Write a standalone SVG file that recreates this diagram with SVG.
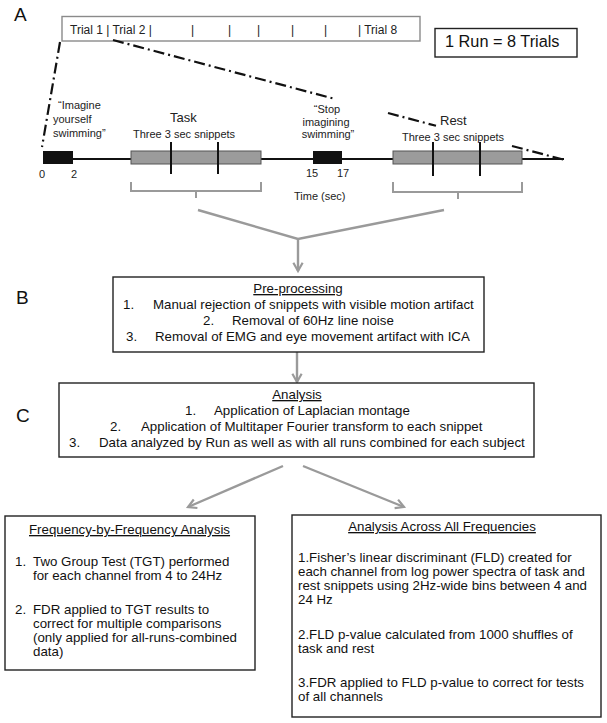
<svg xmlns="http://www.w3.org/2000/svg" width="607" height="723" viewBox="0 0 607 723">
<defs>
<style>
text{font-family:"Liberation Sans",Arial,sans-serif;fill:#111}
.lab{font-size:19px}
.s11{font-size:11px;fill:#222}
.s12{font-size:12px;fill:#222}
.s13{font-size:13px;fill:#222}
.m{font-size:13.3px}
.u{text-decoration:underline}
.box{fill:#fff;stroke:#222;stroke-width:1.4}
.gbox{fill:#fff;stroke:#8a8a8a;stroke-width:1.4}
.dd{fill:none;stroke:#111;stroke-width:2.2;stroke-dasharray:11 4 2 4}
.conn{fill:none;stroke:#9a9a9a;stroke-width:2.4}
.snip{fill:#9b9b9b;stroke:#555;stroke-width:1}
.tick{stroke:#111;stroke-width:2}
.brk{fill:none;stroke:#9a9a9a;stroke-width:2}
</style>
<marker id="chev" viewBox="0 0 10 10" refX="9" refY="5" markerWidth="11" markerHeight="11" markerUnits="userSpaceOnUse" orient="auto" overflow="visible">
<path d="M1.5,0.8 L9,5 L1.5,9.2" fill="none" stroke="#9a9a9a" stroke-width="2"/>
</marker>
</defs>
<rect width="607" height="723" fill="#fff"/>

<text class="lab" x="14" y="21">A</text>
<text class="lab" x="16" y="304">B</text>
<text class="lab" x="16" y="422">C</text>

<g id="trials">
<rect class="gbox" x="62" y="16.5" width="358" height="24.5"/>
<text class="s12" x="70" y="34">Trial 1 | Trial 2 |</text>
<text class="s12" x="191" y="34">|</text>
<text class="s12" x="228" y="34">|</text>
<text class="s12" x="257" y="34">|</text>
<text class="s12" x="291" y="34">|</text>
<text class="s12" x="324" y="34">|</text>
<text class="s12" x="358" y="34">| Trial 8</text>
</g>

<g id="run">
<rect class="box" x="435" y="28.5" width="142" height="28.5"/>
<text x="445" y="47" style="font-size:16.3px">1 Run = 8 Trials</text>
</g>

<g id="zoomlines">
<path class="dd" d="M60,42 L42,147"/>
<path class="dd" d="M113,40 L333,98.4"/>
<path class="dd" d="M388,113 L436,125.8"/>
<path class="dd" d="M512,146 L565,160"/>
</g>

<g id="timeline">
<line x1="43" y1="159" x2="564" y2="159" stroke="#111" stroke-width="1.8"/>
<rect x="43" y="151" width="30" height="13" fill="#111"/>
<rect x="313" y="151" width="29" height="13" fill="#111"/>
<text class="s11" x="39" y="178">0</text>
<text class="s11" x="71" y="178">2</text>
<text class="s11" x="306" y="177">15</text>
<text class="s11" x="337" y="177">17</text>
<text class="s11" x="294" y="200">Time (sec)</text>
</g>

<g id="cue-start">
<text class="s11" x="58" y="109">“Imagine</text>
<text class="s11" x="53" y="123">yourself</text>
<text class="s11" x="53" y="137">swimming”</text>
</g>

<g id="cue-stop">
<text class="s11" x="327" y="113" text-anchor="middle">“Stop</text>
<text class="s11" x="326" y="126" text-anchor="middle">imagining</text>
<text class="s11" x="328" y="138" text-anchor="middle">swimming”</text>
</g>

<g id="task">
<text class="s13" x="170" y="122">Task</text>
<text class="s11" x="133" y="138">Three 3 sec snippets</text>
<rect class="snip" x="131" y="151" width="130" height="13"/>
<line class="tick" x1="171" y1="142" x2="171" y2="174"/>
<line class="tick" x1="218" y1="142" x2="218" y2="174"/>
<path class="brk" d="M131,182 V191 H261 V182 M196,191 V198"/>
</g>

<g id="rest">
<text class="s13" x="440" y="125">Rest</text>
<text class="s11" x="402" y="141">Three 3 sec snippets</text>
<rect class="snip" x="393" y="151" width="129" height="13"/>
<line class="tick" x1="433" y1="142" x2="433" y2="176"/>
<line class="tick" x1="480" y1="142" x2="480" y2="176"/>
<path class="brk" d="M393,182 V192 H522 V182 M458,192 V199"/>
</g>

<g id="connectors">
<path class="conn" d="M198,210 L298,239 L444,210"/>
<path class="conn" d="M298,239 V271" marker-end="url(#chev)"/>
<path class="conn" d="M297,352 V382" marker-end="url(#chev)"/>
<path class="conn" d="M283,466 L188,507" marker-end="url(#chev)"/>
<path class="conn" d="M303,466 L404,507" marker-end="url(#chev)"/>
</g>

<g id="preprocessing">
<rect class="box" x="113" y="277" width="371" height="75"/>
<text class="m u" x="298" y="293" text-anchor="middle">Pre-processing</text>
<text class="m" x="123" y="309">1.</text>
<text class="m" x="153" y="309">Manual rejection of snippets with visible motion artifact</text>
<text class="m" x="203" y="325">2.</text>
<text class="m" x="232" y="325">Removal of 60Hz line noise</text>
<text class="m" x="126" y="341">3.</text>
<text class="m" x="155" y="341">Removal of EMG and eye movement artifact with ICA</text>
</g>

<g id="analysis">
<rect class="box" x="59" y="383" width="475" height="74"/>
<text class="m u" x="297" y="399" text-anchor="middle">Analysis</text>
<text class="m" x="185" y="415">1.</text>
<text class="m" x="214" y="415">Application of Laplacian montage</text>
<text class="m" x="110" y="431">2.</text>
<text class="m" x="141" y="431">Application of Multitaper Fourier transform to each snippet</text>
<text class="m" x="69" y="447">3.</text>
<text class="m" x="99" y="447">Data analyzed by Run as well as with all runs combined for each subject</text>
</g>

<g id="freq-by-freq">
<rect class="box" x="5" y="516" width="250" height="154"/>
<text class="m u" x="29" y="534">Frequency-by-Frequency Analysis</text>
<text class="m" x="15" y="566">1.</text>
<text class="m" x="33" y="566">Two Group Test (TGT) performed</text>
<text class="m" x="33" y="580">for each channel from 4 to 24Hz</text>
<text class="m" x="15" y="614">2.</text>
<text class="m" x="33" y="614">FDR applied to TGT results to</text>
<text class="m" x="33" y="628">correct for multiple comparisons</text>
<text class="m" x="33" y="642">(only applied for all-runs-combined</text>
<text class="m" x="33" y="656">data)</text>
</g>

<g id="across-all">
<rect class="box" x="292" y="515" width="309" height="202"/>
<text class="m u" x="442" y="531" text-anchor="middle">Analysis Across All Frequencies</text>
<text class="m" x="298" y="562">1.Fisher’s linear discriminant (FLD) created for</text>
<text class="m" x="298" y="576">each channel from log power spectra of task and</text>
<text class="m" x="298" y="590">rest snippets using 2Hz-wide bins between 4 and</text>
<text class="m" x="298" y="604">24 Hz</text>
<text class="m" x="298" y="639">2.FLD p-value calculated from 1000 shuffles of</text>
<text class="m" x="298" y="653">task and rest</text>
<text class="m" x="298" y="687">3.FDR applied to FLD p-value to correct for tests</text>
<text class="m" x="298" y="701">of all channels</text>
</g>
</svg>
